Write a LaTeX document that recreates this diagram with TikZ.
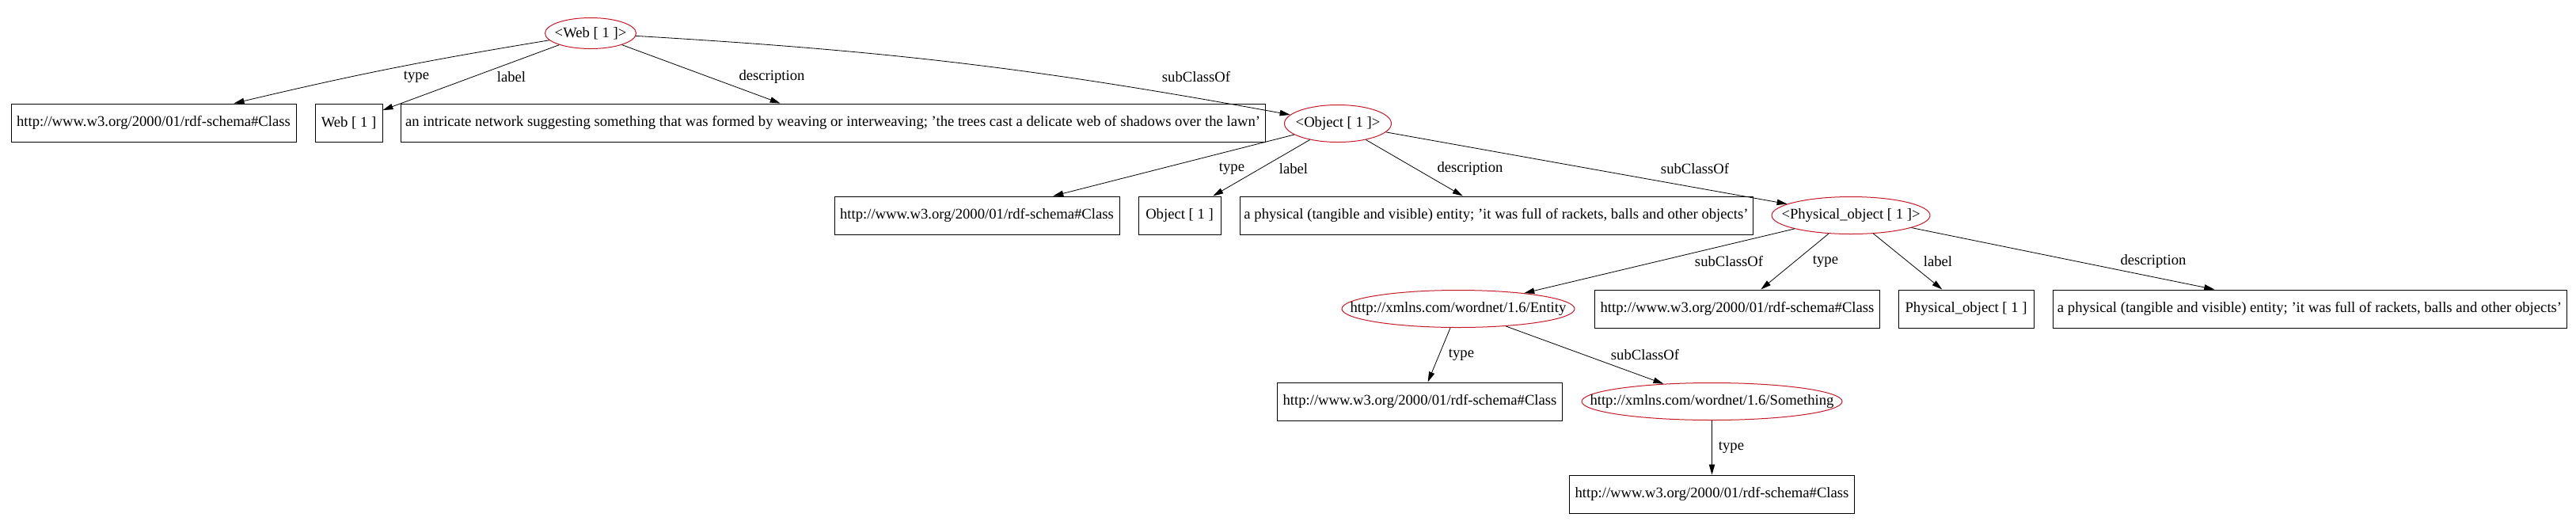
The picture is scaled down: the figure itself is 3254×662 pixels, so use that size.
\documentclass[tikz,border=0pt]{standalone}
\usepackage{fontspec}
\setmainfont{Liberation Serif}
\usetikzlibrary{shapes.geometric, arrows.meta}

\definecolor{resred}{RGB}{195,25,40}
\tikzset{
  lit/.style={draw, rectangle, line width=0.75pt, minimum height=36pt, inner sep=2pt, font=\fontsize{14}{16}\selectfont},
  res/.style={draw=resred, ellipse, line width=0.75pt, minimum height=35.25pt, inner sep=0pt, font=\fontsize{14}{16}\selectfont},
  lbl/.style={inner sep=0pt, font=\fontsize{14}{16}\selectfont},
  edge/.style={-{Triangle[length=9.75pt,width=5.5pt]}, line width=0.6pt},
}
\newcommand{\rtext}[1]{\makebox[0pt]{#1}}

\begin{document}
\begin{tikzpicture}[x=0.75pt, y=-0.75pt]
\useasboundingbox (0,0) rectangle (3254,662);

% resources
\node[res, minimum width=86.25pt, minimum height=29.25pt] (web) at (746,42) {\rtext{<Web [ 1 ]>}};
\node[res, minimum width=101.25pt] (obj) at (1690,156) {\rtext{<Object [ 1 ]>}};
\node[res, minimum width=150pt] (phys) at (2338,272) {\rtext{<Physical\_object [ 1 ]>}};
\node[res, minimum width=220.5pt] (entity) at (1842,390) {\rtext{http://xmlns.com/wordnet/1.6/Entity}};
\node[res, minimum width=246.75pt] (something) at (2162.5,507) {\rtext{http://xmlns.com/wordnet/1.6/Something}};

% literals
\node[lit, minimum width=270pt] (cls1) at (194,155) {http://www.w3.org/2000/01/rdf-schema\#Class};
\node[lit, minimum width=63.75pt] (webl) at (440.5,155) {Web [ 1 ]};
\node[lit, minimum width=819pt] (desc1) at (1052,155) {an intricate network suggesting something that was formed by weaving or interweaving; 'the trees cast a delicate web of shadows over the lawn'};
\node[lit, minimum width=270pt] (cls2) at (1234,272) {http://www.w3.org/2000/01/rdf-schema\#Class};
\node[lit, minimum width=78pt] (objl) at (1490,272) {Object [ 1 ]};
\node[lit, minimum width=486pt] (desc2) at (1890,272) {a physical (tangible and visible) entity; 'it was full of rackets, balls and other objects'};
\node[lit, minimum width=270pt] (cls3) at (2194.5,390) {http://www.w3.org/2000/01/rdf-schema\#Class};
\node[lit, minimum width=128.25pt] (physl) at (2483.5,390) {Physical\_object [ 1 ]};
\node[lit, minimum width=486.75pt] (desc3) at (2917.5,390) {a physical (tangible and visible) entity; 'it was full of rackets, balls and other objects'};
\node[lit, minimum width=270pt] (cls4) at (1793.5,507) {http://www.w3.org/2000/01/rdf-schema\#Class};
\node[lit, minimum width=270pt] (cls5) at (2162.5,624) {http://www.w3.org/2000/01/rdf-schema\#Class};

% edges
\draw[edge] (web) to[bend right=2] (cls1);
\draw[edge] (web) -- (webl);
\draw[edge] (web) -- (desc1);
\draw[edge] (web) to[bend left=3.5] (obj);
\draw[edge] (obj) -- (cls2);
\draw[edge] (obj) -- (objl);
\draw[edge] (obj) -- (desc2);
\draw[edge] (obj) -- (phys);
\draw[edge] (phys) -- (entity);
\draw[edge] (phys) -- (cls3);
\draw[edge] (phys) -- (physl);
\draw[edge] (phys) -- (desc3);
\draw[edge] (entity) -- (cls4);
\draw[edge] (entity) -- (something);
\draw[edge] (something) -- (cls5);

% edge labels
\foreach \x/\y/\t [count=\i] in {526/97/type, 646/97/label, 975/97/description, 1511/97/subClassOf,
    1556/213/type, 1634/213/label, 1857/213/description, 2141/213/subClassOf,
    2184/330/subClassOf, 2306/330/type, 2448/330/label, 2720/330/description,
    1846/448/type, 2078/448/subClassOf, 2187/565/type}
  \node[lbl] (l\i) at (\x,\y) {\t};
\end{tikzpicture}
\end{document}
